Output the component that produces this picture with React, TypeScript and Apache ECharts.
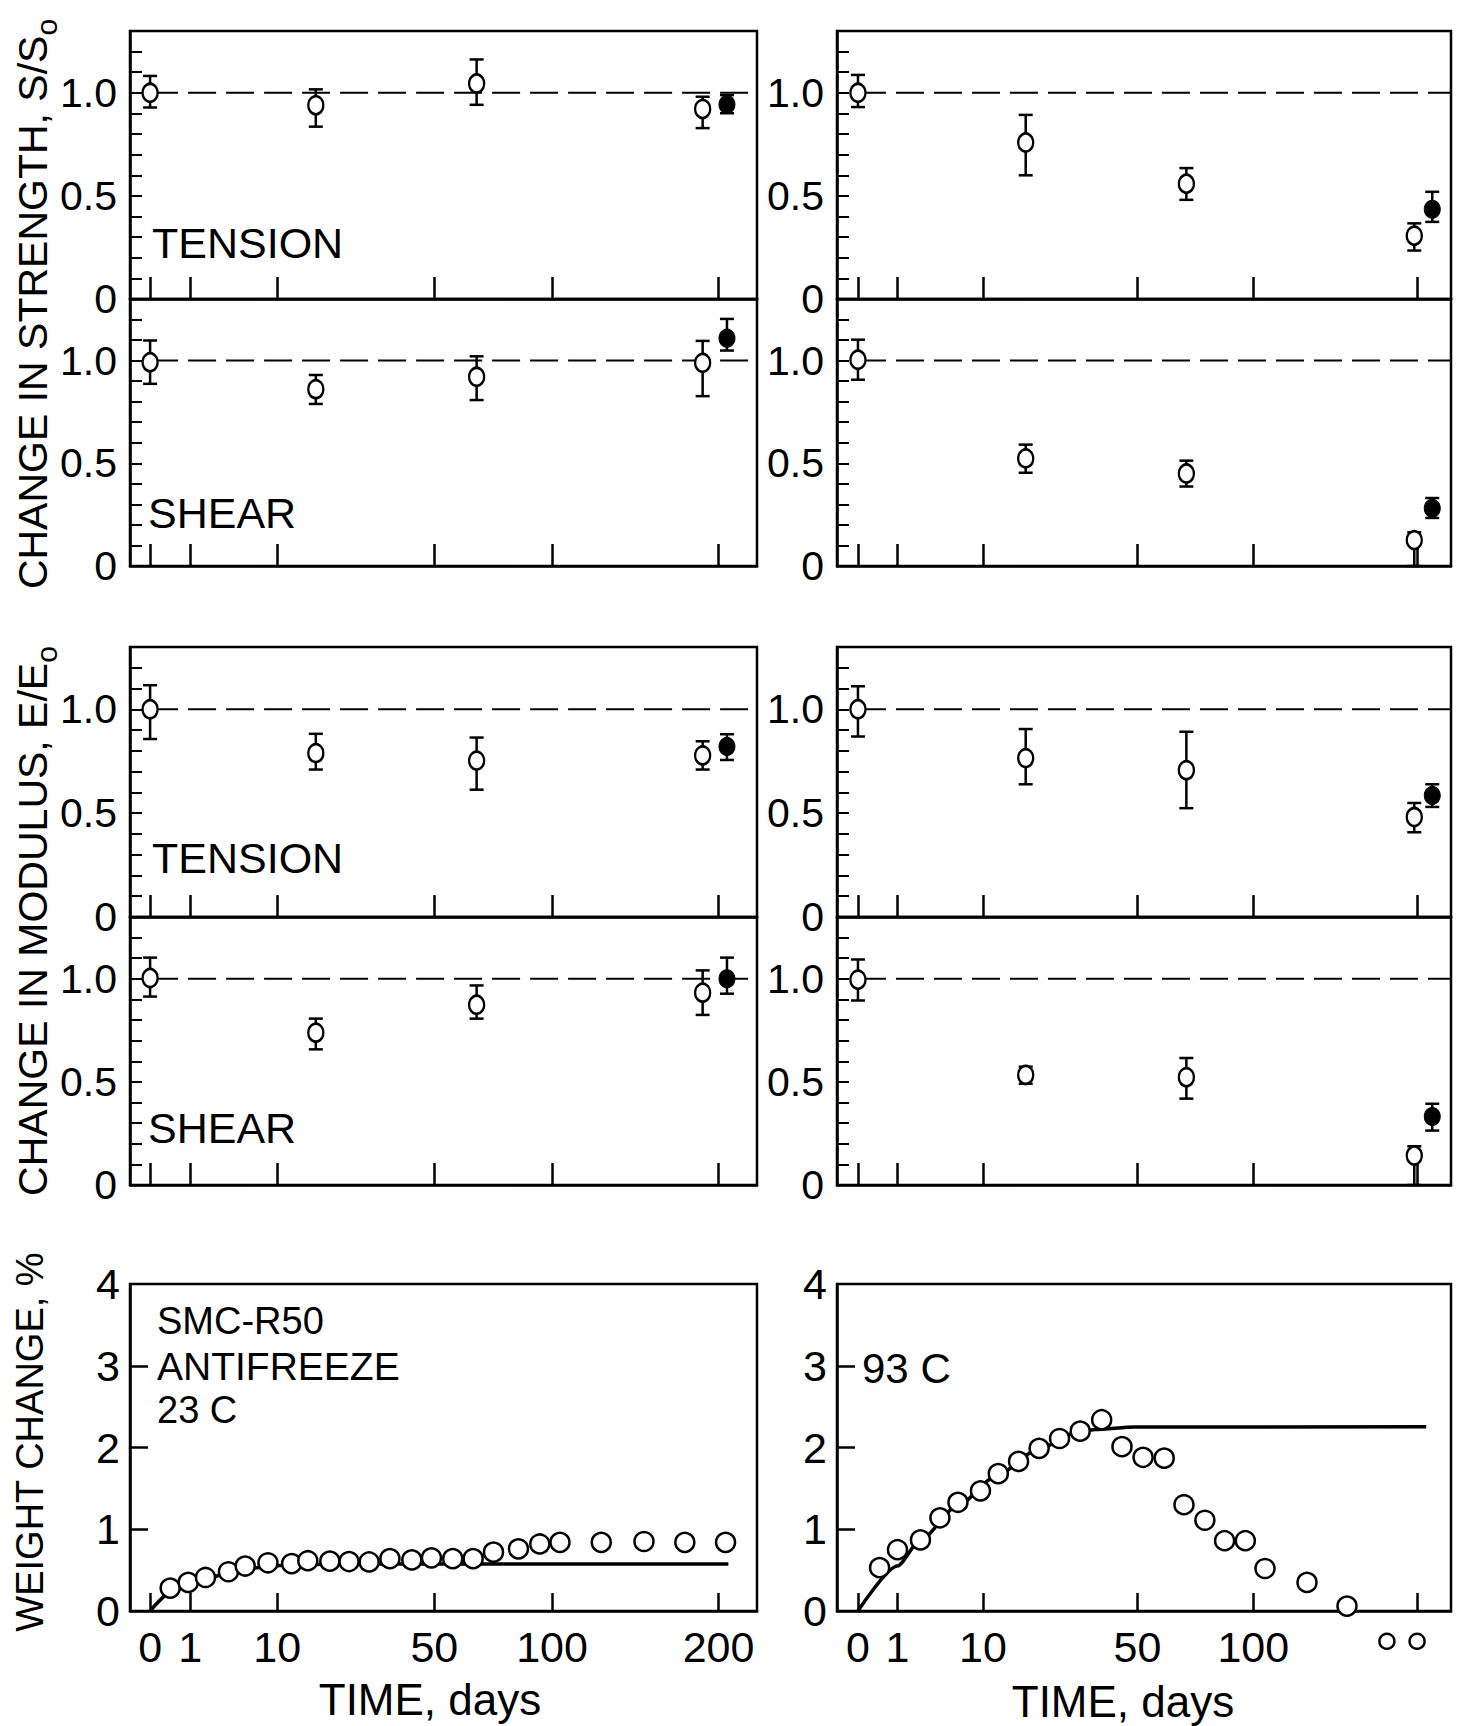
import React, { useEffect, useRef } from "react";
import * as echarts from "echarts";

const SANS = "'Liberation Sans', Arial, sans-serif";

// ---- axis ticks / labels ----
const xTickDays = [0, 1, 10, 50, 100, 200];
const xLabelDaysLeft = [0, 1, 10, 50, 100, 200];
const xLabelDaysRight = [0, 1, 10, 50, 100];
const ratioMinorTicks = [0.1, 0.2, 0.3, 0.4, 0.5, 0.6, 0.7, 0.8, 0.9, 1.0, 1.1, 1.2];
const ratioLabels = [0, 0.5, 1.0];
const weightTicks = [1, 2, 3];
const weightLabels = [0, 1, 2, 3, 4];

// ---- exposure times (days) ----
const leftDays = [0, 17, 66, 189];
const leftFilledDay = 206;
const rightDays = [0, 18, 69, 198];
const rightFilledDay = 211;

// ---- strength, 23 C (left) ----
const strTenL = [1.0, 0.94, 1.045, 0.922];
const strTenLLo = [0.929, 0.836, 0.942, 0.829];
const strTenLHi = [1.082, 1.017, 1.162, 0.981];
const strTenLFilled = [0.944, 0.901, 0.989];
const strShrL = [0.992, 0.861, 0.921, 0.989];
const strShrLLo = [0.887, 0.789, 0.808, 0.827];
const strShrLHi = [1.098, 0.93, 1.021, 1.096];
const strShrLFilled = [1.109, 1.049, 1.203];
// ---- strength, 93 C (right) ----
const strTenR = [1.0, 0.759, 0.559, 0.307];
const strTenRLo = [0.931, 0.6, 0.481, 0.235];
const strTenRHi = [1.087, 0.893, 0.635, 0.367];
const strTenRFilled = [0.435, 0.374, 0.52];
const strShrR = [1.004, 0.524, 0.45, 0.126];
const strShrRLo = [0.907, 0.454, 0.387, 0.0];
const strShrRHi = [1.102, 0.591, 0.513, 0.164];
const strShrRFilled = [0.281, 0.234, 0.331];
// ---- modulus, 23 C (left) ----
const modTenL = [1.0, 0.789, 0.753, 0.778];
const modTenLLo = [0.857, 0.71, 0.613, 0.71];
const modTenLHi = [1.116, 0.882, 0.864, 0.846];
const modTenLFilled = [0.821, 0.756, 0.88];
const modShrL = [1.004, 0.739, 0.874, 0.933];
const modShrLLo = [0.914, 0.658, 0.807, 0.825];
const modShrLHi = [1.103, 0.807, 0.968, 1.041];
const modShrLFilled = [1.0, 0.928, 1.103];
// ---- modulus, 93 C (right) ----
const modTenR = [1.0, 0.765, 0.707, 0.481];
const modTenRLo = [0.869, 0.639, 0.524, 0.408];
const modTenRHi = [1.111, 0.905, 0.892, 0.549];
const modTenRFilled = [0.585, 0.53, 0.639];
const modShrR = [0.996, 0.534, 0.523, 0.143];
const modShrRLo = [0.895, 0.491, 0.419, 0.0];
const modShrRHi = [1.094, 0.574, 0.616, 0.188];
const modShrRFilled = [0.332, 0.264, 0.394];

// ---- weight change, % ----
const wLeftDays = [0.25, 0.9, 1.9, 3.8, 5.6, 8.6, 12.4, 15.4, 20, 24.5, 29.7, 35.6, 42.4, 49, 56.7, 64.6, 73, 84, 94, 104, 126, 151, 177, 205];
const wLeftVals = [0.28, 0.35, 0.41, 0.48, 0.55, 0.59, 0.58, 0.615, 0.61, 0.605, 0.6, 0.64, 0.625, 0.65, 0.64, 0.64, 0.72, 0.76, 0.82, 0.84, 0.84, 0.85, 0.84, 0.84];
const wLeftFitDays = [0, 0.25, 1, 2.25, 4, 6.25, 9, 12.25, 16, 25, 207];
const wLeftFitVals = [0, 0.22, 0.33, 0.41, 0.47, 0.52, 0.55, 0.565, 0.57, 0.575, 0.575];
const wRightDays = [0.3, 1.0, 2.5, 4.3, 6.4, 9.6, 12.6, 16.5, 21, 26, 31.6, 38, 44.6, 52, 60, 68, 77, 86, 96, 106, 129, 153];
const wRightVals = [0.53, 0.75, 0.87, 1.14, 1.33, 1.47, 1.68, 1.83, 1.99, 2.11, 2.2, 2.34, 2.01, 1.88, 1.87, 1.3, 1.11, 0.86, 0.86, 0.52, 0.35, 0.06];
const wRightOffDays = [179, 200];
const wRightOffVals = [-0.37, -0.37];
const wRightFitDays = [0, 1, 2.4, 6.25, 12.25, 20.25, 30.25, 36, 49, 206.6];
const wRightFitVals = [0, 0.55, 0.85, 1.28, 1.65, 1.96, 2.18, 2.22, 2.25, 2.255];

const sq = (d: number) => Math.sqrt(d);

const LEFT = { left: 130, width: 627, min: -0.5, max: 15.1 };
const RIGHT = { left: 837, width: 614, min: -0.53, max: 15.0 };
const ROWS = {
  strT: { top: 31, height: 268 },
  strS: { top: 299, height: 267 },
  modT: { top: 647, height: 270 },
  modS: { top: 917, height: 268 },
  wt: { top: 1284, height: 327 },
};

const errRender = (params: any, api: any) => {
  const x = api.value(0);
  const lo = api.value(1);
  const hi = api.value(2);
  const pLo = api.coord([x, lo]);
  const pHi = api.coord([x, hi]);
  const hw = 7;
  const st = { stroke: "#000", lineWidth: 2.5, fill: null };
  return {
    type: "group",
    children: [
      { type: "line", shape: { x1: pLo[0], y1: pLo[1], x2: pHi[0], y2: pHi[1] }, style: st },
      { type: "line", shape: { x1: pLo[0] - hw, y1: pLo[1], x2: pLo[0] + hw, y2: pLo[1] }, style: st },
      { type: "line", shape: { x1: pHi[0] - hw, y1: pHi[1], x2: pHi[0] + hw, y2: pHi[1] }, style: st },
    ],
  };
};

function buildOption() {
  const grids: any[] = [];
  const xAxes: any[] = [];
  const yAxes: any[] = [];
  const series: any[] = [];
  const axisLine = { show: true, onZero: false, lineStyle: { color: "#000", width: 2.5 } };

  const addRatio = (col: any, row: any, days: number[], filledDay: number,
    vals: number[], lo: number[], hi: number[], filled: number[]) => {
    const i = grids.length;
    grids.push({ left: col.left, width: col.width, top: row.top, height: row.height, show: true,
      borderColor: "#000", borderWidth: 2.5, backgroundColor: "transparent", outerBoundsMode: "none" });
    xAxes.push({ gridIndex: i, type: "value", min: col.min, max: col.max, axisLine,
      axisTick: { show: true, inside: true, length: 22, customValues: xTickDays.map(sq), lineStyle: { color: "#000", width: 2.5 } },
      axisLabel: { show: false }, splitLine: { show: false } });
    yAxes.push({ gridIndex: i, type: "value", min: 0, max: 1.3, axisLine,
      axisTick: { show: true, inside: true, length: 12, customValues: ratioMinorTicks, lineStyle: { color: "#000", width: 2 } },
      axisLabel: { show: true, customValues: ratioLabels, formatter: (v: number) => (v === 0 ? "0" : v.toFixed(1)),
        fontSize: 41, fontFamily: SANS, color: "#000", margin: 13 },
      splitLine: { show: false } });
    series.push({ type: "line", xAxisIndex: i, yAxisIndex: i, data: [[0, 1], [col.max, 1]], symbol: "none", silent: true,
      lineStyle: { type: [28, 10], width: 2, color: "#000" }, z: 1 });
    const errData = days.map((d, k) => [sq(d), lo[k], hi[k]]);
    errData.push([sq(filledDay), filled[1], filled[2]]);
    series.push({ type: "custom", xAxisIndex: i, yAxisIndex: i, data: errData, renderItem: errRender,
      encode: { x: 0, y: [1, 2] }, z: 2, silent: true });
    series.push({ type: "scatter", xAxisIndex: i, yAxisIndex: i, data: days.map((d, k) => [sq(d), vals[k]]),
      symbol: "circle", symbolSize: [15, 18], itemStyle: { color: "#fff", borderColor: "#000", borderWidth: 2.5, opacity: 1 }, z: 3, silent: true });
    series.push({ type: "scatter", xAxisIndex: i, yAxisIndex: i, data: [[sq(filledDay), filled[0]]],
      symbol: "circle", symbolSize: [16, 18], itemStyle: { color: "#000", borderColor: "#000", borderWidth: 1, opacity: 1 }, z: 3, silent: true });
  };

  addRatio(LEFT, ROWS.strT, leftDays, leftFilledDay, strTenL, strTenLLo, strTenLHi, strTenLFilled);
  addRatio(LEFT, ROWS.strS, leftDays, leftFilledDay, strShrL, strShrLLo, strShrLHi, strShrLFilled);
  addRatio(RIGHT, ROWS.strT, rightDays, rightFilledDay, strTenR, strTenRLo, strTenRHi, strTenRFilled);
  addRatio(RIGHT, ROWS.strS, rightDays, rightFilledDay, strShrR, strShrRLo, strShrRHi, strShrRFilled);
  addRatio(LEFT, ROWS.modT, leftDays, leftFilledDay, modTenL, modTenLLo, modTenLHi, modTenLFilled);
  addRatio(LEFT, ROWS.modS, leftDays, leftFilledDay, modShrL, modShrLLo, modShrLHi, modShrLFilled);
  addRatio(RIGHT, ROWS.modT, rightDays, rightFilledDay, modTenR, modTenRLo, modTenRHi, modTenRFilled);
  addRatio(RIGHT, ROWS.modS, rightDays, rightFilledDay, modShrR, modShrRLo, modShrRHi, modShrRFilled);

  const addWeight = (col: any, labelDays: number[], days: number[], vals: number[], fitDays: number[], fitVals: number[]) => {
    const i = grids.length;
    grids.push({ left: col.left, width: col.width, top: ROWS.wt.top, height: ROWS.wt.height, show: true,
      borderColor: "#000", borderWidth: 2.5, backgroundColor: "transparent", outerBoundsMode: "none" });
    xAxes.push({ gridIndex: i, type: "value", min: col.min, max: col.max, axisLine,
      axisTick: { show: true, inside: true, length: 18, customValues: xTickDays.map(sq), lineStyle: { color: "#000", width: 2.5 } },
      axisLabel: { show: true, customValues: labelDays.map(sq), formatter: (v: number) => String(Math.round(v * v)),
        fontSize: 43, fontFamily: SANS, color: "#000", margin: 14 },
      splitLine: { show: false } });
    yAxes.push({ gridIndex: i, type: "value", min: 0, max: 4, axisLine,
      axisTick: { show: true, inside: true, length: 18, customValues: weightTicks, lineStyle: { color: "#000", width: 2.5 } },
      axisLabel: { show: true, customValues: weightLabels, formatter: (v: number) => String(v),
        fontSize: 43, fontFamily: SANS, color: "#000", margin: 10 },
      splitLine: { show: false } });
    series.push({ type: "line", xAxisIndex: i, yAxisIndex: i, data: fitDays.map((d, k) => [sq(d), fitVals[k]]),
      symbol: "none", smooth: 0.25, smoothMonotone: "x", silent: true, lineStyle: { width: 3.5, color: "#000" }, z: 2 });
    series.push({ type: "scatter", xAxisIndex: i, yAxisIndex: i, data: days.map((d, k) => [sq(d), vals[k]]), clip: false,
      symbol: "circle", symbolSize: 19, itemStyle: { color: "#fff", borderColor: "#000", borderWidth: 2.5, opacity: 1 }, z: 3, silent: true });
    return i;
  };

  addWeight(LEFT, xLabelDaysLeft, wLeftDays, wLeftVals, wLeftFitDays, wLeftFitVals);
  const ri = addWeight(RIGHT, xLabelDaysRight, wRightDays, wRightVals, wRightFitDays, wRightFitVals);
  series.push({ type: "scatter", xAxisIndex: ri, yAxisIndex: ri, data: wRightOffDays.map((d, k) => [sq(d), wRightOffVals[k]]), clip: false,
    symbol: "circle", symbolSize: 15, itemStyle: { color: "#fff", borderColor: "#000", borderWidth: 2.5, opacity: 1 }, z: 3, silent: true });

  const txt = (text: string, x: number, y: number, fontSize: number, align = "left") => ({
    type: "text", x, y, silent: true,
    style: { text, fontSize, fontFamily: SANS, fill: "#000", align, verticalAlign: "middle" },
  });
  const vTitle = (main: string, sub: string, x: number, y: number, size: number) => ({
    type: "text", x, y, rotation: Math.PI / 2, silent: true,
    style: {
      text: sub ? `{m|${main}}{s|${sub}}` : `{m|${main}}`,
      align: "center", verticalAlign: "middle", fill: "#000",
      rich: {
        m: { fontSize: size, fontFamily: SANS, fill: "#000", lineHeight: 56 },
        s: { fontSize: 30, fontFamily: SANS, fill: "#000", lineHeight: 30, verticalAlign: "bottom" },
      },
    },
  });

  const graphic = [
    vTitle("CHANGE IN STRENGTH, S/S", "o", 33, 304, 41),
    vTitle("CHANGE IN MODULUS, E/E", "o", 33, 921, 41),
    vTitle("WEIGHT CHANGE, %", "", 30, 1442, 38),
    txt("TENSION", 152, 243, 43),
    txt("SHEAR", 148, 513, 43),
    txt("TENSION", 152, 858, 43),
    txt("SHEAR", 148, 1128, 43),
    txt("SMC-R50", 157, 1321, 38),
    txt("ANTIFREEZE", 157, 1366, 39),
    txt("23 C", 157, 1410, 38),
    txt("93 C", 862, 1368, 42),
    txt("TIME, days", 430, 1699, 44, "center"),
    txt("TIME, days", 1123, 1701, 44, "center"),
  ];

  return {
    animation: false,
    backgroundColor: "#fff",
    grid: grids,
    xAxis: xAxes,
    yAxis: yAxes,
    series,
    graphic,
  };
}

export default function App() {
  const ref = useRef<HTMLDivElement>(null);
  useEffect(() => {
    if (!ref.current) return;
    const chart = echarts.init(ref.current, undefined, { renderer: "svg" });
    chart.setOption(buildOption() as any);
    return () => chart.dispose();
  }, []);
  return (
    <div
      ref={ref}
      style={{ position: "absolute", left: 0, top: 0, width: 1462, height: 1726, background: "#fff" }}
    />
  );
}
